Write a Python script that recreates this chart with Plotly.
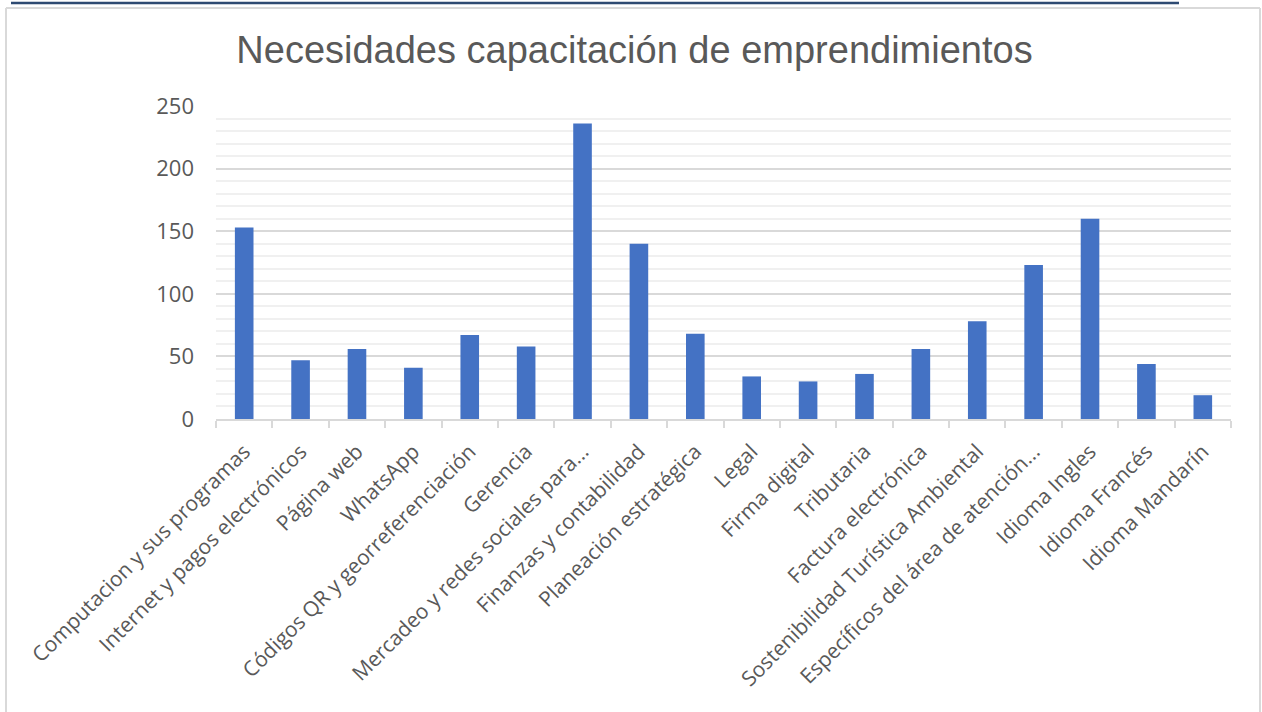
import plotly.graph_objects as go

categories = [
    "Computacion y sus programas",
    "Internet y pagos electrónicos",
    "Página web",
    "WhatsApp",
    "Códigos QR y georreferenciación",
    "Gerencia",
    "Mercadeo y redes sociales para...",
    "Finanzas y contabilidad",
    "Planeación estratégica",
    "Legal",
    "Firma digital",
    "Tributaria",
    "Factura electrónica",
    "Sostenibilidad Turística Ambiental",
    "Específicos del área de atención...",
    "Idioma Ingles",
    "Idioma Francés",
    "Idioma Mandarín",
]
values = [153, 47, 56, 41, 67, 58, 236, 140, 68, 34, 30, 36, 56, 78, 123, 160, 44, 19]
y_ticks = [0, 50, 100, 150, 200, 250]

W, H = 1262, 712
L, R, T, B = 216, 1231, 106, 419

def px_x(p):
    return (p - L) / (R - L)

def px_y(p):
    return (B - p) / (B - T)

fig = go.Figure()
fig.add_trace(go.Bar(
    x=categories,
    y=values,
    marker=dict(color="#4472C4", line=dict(width=0)),
    width=0.33,
    hoverinfo="x+y",
))

fig.update_layout(
    width=W,
    height=H,
    margin=dict(l=L, r=W - R, t=T, b=H - B, autoexpand=False),
    paper_bgcolor="white",
    plot_bgcolor="white",
    showlegend=False,
    title=dict(
        text="Necesidades capacitación de emprendimientos",
        x=634.5 / W,
        xanchor="center",
        y=1 - 50 / H,
        yanchor="middle",
        font=dict(family="Liberation Sans, Arial", size=38, color="#595959"),
    ),
    xaxis=dict(
        type="category",
        tickangle=-45,
        tickfont=dict(family="Open Sans", size=21, color="#595959"),
        showgrid=False,
        showline=True,
        linecolor="#D9D9D9",
        linewidth=2,
        ticks="outside",
        tickson="boundaries",
        ticklen=7,
        tickcolor="#D9D9D9",
        tickwidth=1.5,
        ticklabelstandoff=10,
        range=[-0.5, len(categories) - 0.5],
    ),
    yaxis=dict(
        range=[0, 250],
        tickvals=y_ticks,
        tickfont=dict(family="Open Sans", size=22, color="#595959"),
        showgrid=True,
        gridcolor="#D9D9D9",
        gridwidth=1.5,
        zeroline=False,
        showline=False,
        ticks="",
        ticklabelstandoff=21,
        minor=dict(dtick=10, showgrid=True, gridcolor="#F0F0F0", gridwidth=1.5),
    ),
    shapes=[
        dict(type="line", xref="paper", yref="paper",
             x0=px_x(11), x1=px_x(1179), y0=px_y(3), y1=px_y(3),
             line=dict(color="#2E4A72", width=2.5)),
        dict(type="line", xref="paper", yref="paper",
             x0=px_x(6), x1=px_x(1260), y0=px_y(8), y1=px_y(8),
             line=dict(color="#D9D9D9", width=2)),
        dict(type="line", xref="paper", yref="paper",
             x0=px_x(6), x1=px_x(6), y0=px_y(8), y1=px_y(720),
             line=dict(color="#D9D9D9", width=2)),
        dict(type="line", xref="paper", yref="paper",
             x0=px_x(1260), x1=px_x(1260), y0=px_y(8), y1=px_y(720),
             line=dict(color="#D9D9D9", width=2)),
    ],
)

fig.write_html(
    "out.html",
    config={"displayModeBar": False},
    post_script="document.body.style.margin='0px';",
)
